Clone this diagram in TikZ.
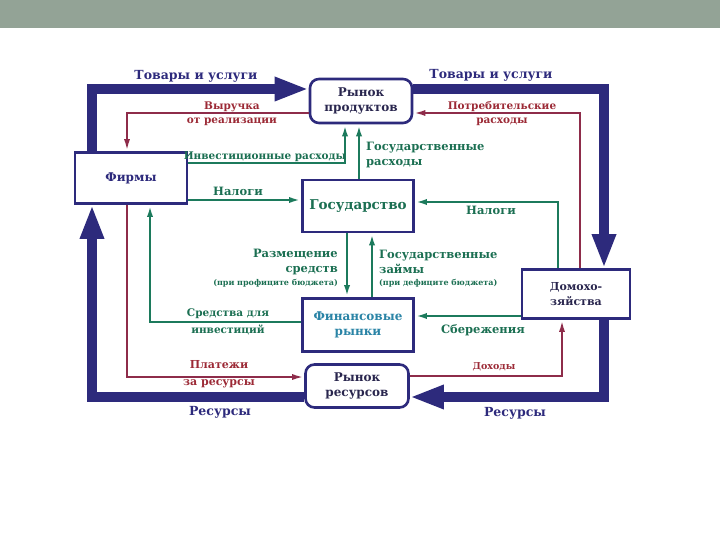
\documentclass[tikz,border=0pt]{standalone}
\usepackage{fontspec}
\setmainfont{DejaVu Serif}
\usetikzlibrary{arrows.meta}
\definecolor{band}{HTML}{93A396}
\definecolor{navy}{HTML}{2D2A7C}
\definecolor{ink}{HTML}{29264E}
\definecolor{wine}{HTML}{8E2C4A}
\definecolor{winetxt}{HTML}{9C2A36}
\definecolor{pine}{HTML}{1C7A5C}
\definecolor{pinetxt}{HTML}{1B6F52}
\definecolor{sea}{HTML}{2A84A6}

\begin{document}
\begin{tikzpicture}[x=1pt,y=-1pt,line join=miter,
  every node/.style={inner sep=1pt},
  box/.style={draw=navy,line width=2.6pt,fill=white,align=center,font=\bfseries\fontsize{12}{15}\selectfont},
  market/.style={box,rounded corners=9pt},
  goods/.style={navy,line width=10pt,-{Triangle[length=34pt,width=22pt]}},
  money/.style={wine,line width=2.2pt,-{Latex[length=12pt,width=6pt]}},
  funds/.style={pine,line width=2.6pt,-{Latex[length=12pt,width=6pt]}},
  bluetxt/.style={text=navy,font=\bfseries\fontsize{12.5}{15}\selectfont},
  redtxt/.style={text=winetxt,align=center,font=\bfseries\fontsize{10.5}{14}\selectfont},
  greentxt/.style={text=pinetxt,font=\bfseries\fontsize{11.5}{15}\selectfont}]
  \useasboundingbox (0,0) rectangle (720,540);
  \fill[band] (0,0) rectangle (720,28);

  \node[box,minimum width=112pt,minimum height=51pt,text=navy] (firms) at (131,178) {Фирмы};
  \node[market,minimum width=102pt,minimum height=44pt,text=ink] (prodmkt) at (361,101) {Рынок\\продуктов};
  \node[box,minimum width=111pt,minimum height=52pt,text=pinetxt,font=\bfseries\fontsize{13.5}{16}\selectfont] (state) at (358,206) {Государство};
  \node[box,minimum width=111pt,minimum height=53pt,text=sea] (finmkt) at (358,325) {Финансовые\\рынки};
  \node[market,minimum width=103pt,minimum height=43pt,text=ink] (resmkt) at (357,386) {Рынок\\ресурсов};
  \node[box,minimum width=108pt,minimum height=49pt,text=ink,font=\bfseries\fontsize{11}{15}\selectfont] (house) at (576,294) {Домохо-\\зяйства};

  \coordinate (tl) at (92,89);
  \coordinate (tr) at (604,89);
  \coordinate (br) at (604,397);
  \coordinate (bl) at (92,397);
  \draw[goods] (firms.north -| tl) -- (tl) -- (tl -| prodmkt.west);
  \draw[goods] (tr -| prodmkt.east) -- (tr) -- (house.north -| tr);
  \draw[goods] (house.south -| br) -- (br) -- (br -| resmkt.east);
  \draw[goods] (bl -| resmkt.west) -- (bl) -- (firms.south -| bl);

  \coordinate (rev) at (127,113);
  \coordinate (cons) at (580,113);
  \coordinate (inc) at (562,376);
  \coordinate (pay) at (127,377);
  \draw[money] (rev -| prodmkt.west) -- (rev) -- (firms.north -| rev);
  \draw[money] (house.north -| cons) -- (cons) -- (cons -| prodmkt.east);
  \draw[money] (inc -| resmkt.east) -- (inc) -- (house.south -| inc);
  \draw[money] (firms.south -| pay) -- (pay) -- (pay -| resmkt.west);

  \coordinate (inv) at (345,163);
  \coordinate (gov) at (359,150);
  \coordinate (taxf) at (245,200);
  \coordinate (taxh) at (558,202);
  \coordinate (place) at (347,265);
  \coordinate (loan) at (372,265);
  \coordinate (sinv) at (150,322);
  \coordinate (sav) at (470,316);
  \draw[funds] (firms.east |- inv) -- (inv) -- (prodmkt.south -| inv);
  \draw[funds] (state.north -| gov) -- (prodmkt.south -| gov);
  \draw[funds] (firms.east |- taxf) -- (state.west |- taxf);
  \draw[funds] (house.north -| taxh) -- (taxh) -- (taxh -| state.east);
  \draw[funds] (state.south -| place) -- (finmkt.north -| place);
  \draw[funds] (finmkt.north -| loan) -- (state.south -| loan);
  \draw[funds] (finmkt.west |- sinv) -- (sinv) -- (firms.south -| sinv);
  \draw[funds] (house.west |- sav) -- (finmkt.east |- sav);

  \node[bluetxt] (goodsl) at (196,76) {Товары и услуги};
  \node[bluetxt] (goodsr) at (491,75) {Товары и услуги};
  \node[bluetxt] (resl) at (220,412) {Ресурсы};
  \node[bluetxt] (resr) at (515,413) {Ресурсы};

  \node[redtxt] (revl) at (232,114) {Выручка\\от реализации};
  \node[redtxt] (consl) at (502,114) {Потребительские\\расходы};
  \node[redtxt,font=\bfseries\fontsize{9.5}{12}\selectfont] (incl) at (494,367) {Доходы};
  \node[redtxt,font=\bfseries\fontsize{11}{17}\selectfont] (payl) at (219,374) {Платежи\\за ресурсы};

  \node[greentxt,font=\bfseries\fontsize{10.5}{13}\selectfont] (invl) at (265,157) {Инвестиционные расходы};
  \node[greentxt,anchor=west,align=left] (govl) at (365,155) {Государственные\\расходы};
  \node[greentxt] (taxfl) at (238,191) {Налоги};
  \node[greentxt] (taxhl) at (491,210) {Налоги};
  \node[greentxt,anchor=east,align=right] (placel) at (339,262) {Размещение\\средств};
  \node[greentxt,anchor=east,font=\bfseries\fontsize{8}{10}\selectfont] (placen) at (339,283) {(при профиците бюджета)};
  \node[greentxt,anchor=west,align=left] (loanl) at (378,262) {Государственные\\займы};
  \node[greentxt,anchor=west,font=\bfseries\fontsize{8}{10}\selectfont] (loann) at (378,283) {(при дефиците бюджета)};
  \node[greentxt,align=center,font=\bfseries\fontsize{10.5}{17}\selectfont] (sinvl) at (228,322) {Средства для\\инвестиций};
  \node[greentxt] (savl) at (483,330) {Сбережения};
\end{tikzpicture}
\end{document}
